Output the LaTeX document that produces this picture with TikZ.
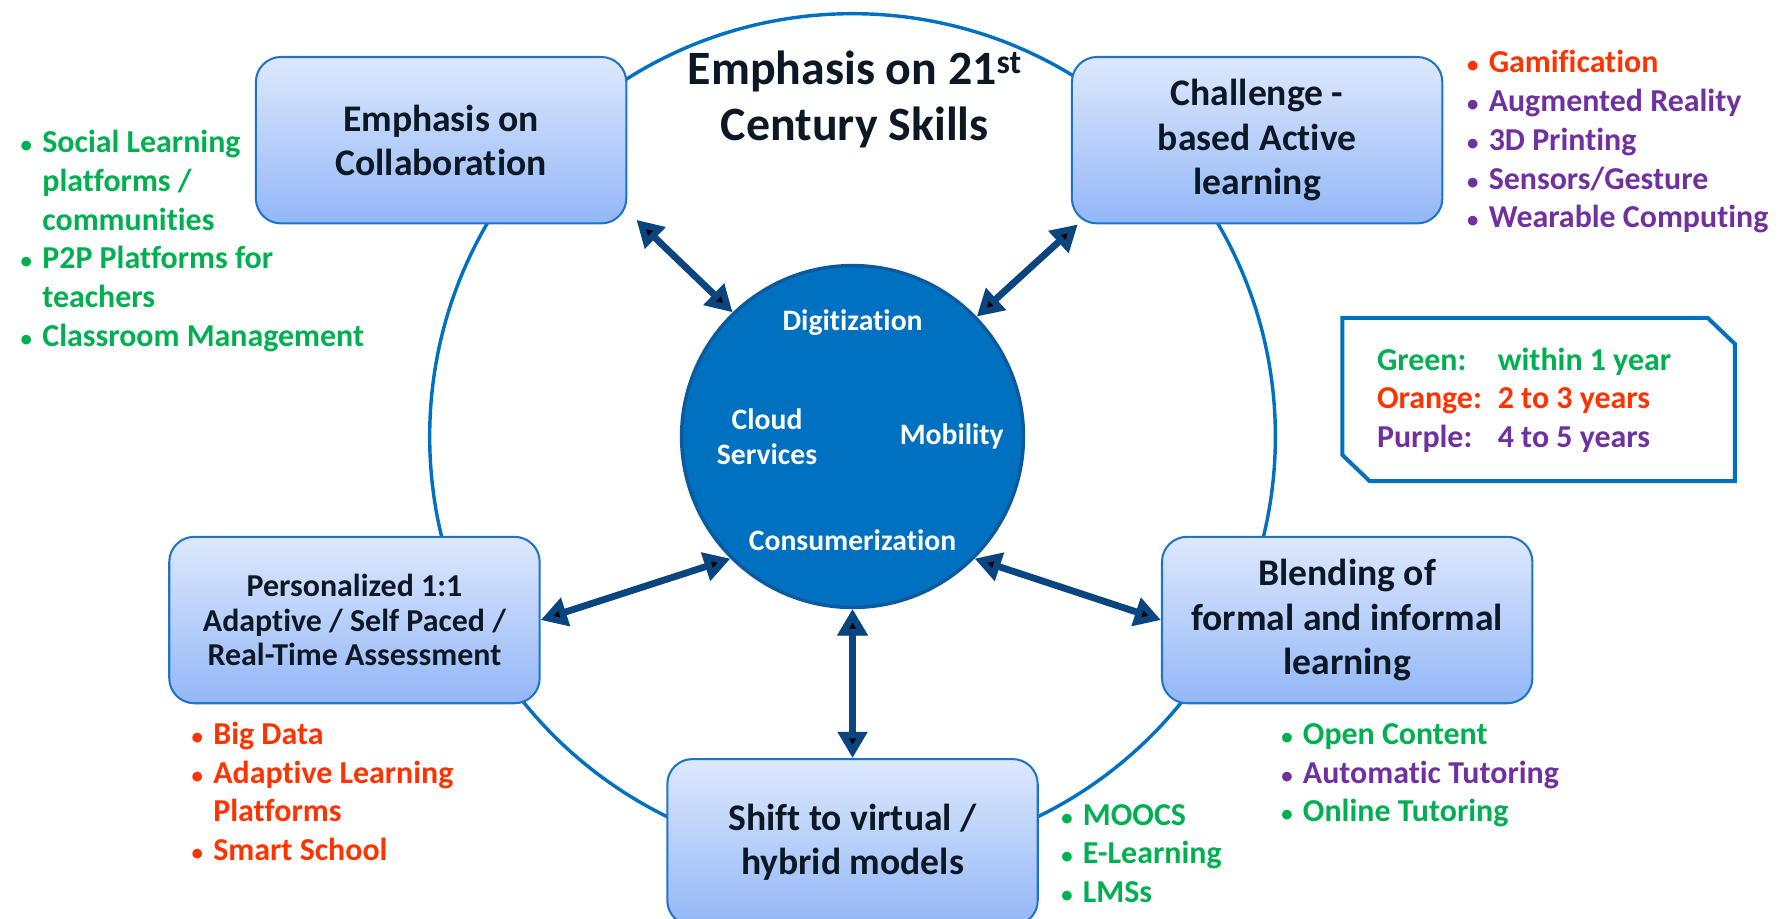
\documentclass[tikz,border=0pt]{standalone}
\usepackage{fontspec}
\setmainfont{Carlito}[Ligatures=NoCommon]
\usepackage{tikz}
\usetikzlibrary{positioning, arrows.meta}

\definecolor{ringblue}{HTML}{0070C0}
\definecolor{coreedge}{HTML}{0B5A9E}
\definecolor{linkblue}{HTML}{0A4580}
\definecolor{boxtop}{HTML}{DDE8FD}
\definecolor{boxbottom}{HTML}{93B7F7}
\definecolor{boxedge}{HTML}{1F74C8}
\definecolor{cgreen}{HTML}{00B050}
\definecolor{corange}{HTML}{FF3300}
\definecolor{cpurple}{HTML}{7030A0}
\definecolor{inkdark}{HTML}{0C1824}

\newcommand{\bdot}{{\fontsize{20}{0}\selectfont\textbullet}}
\newcommand{\bitem}[2]{\textcolor{#1}{\makebox[19pt][l]{\bdot}#2}} % bulleted line
\newcommand{\bcont}[2]{\textcolor{#1}{\hspace*{19pt}#2}} % continued line

\tikzset{
	skillbox/.style={rectangle, rounded corners=22pt, draw=boxedge, line width=1.8pt, top color=boxtop, bottom color=boxbottom, minimum width=325pt, minimum height=146pt, align=center, text=inkdark, font=\bfseries\fontsize{33}{39}\selectfont}, % the five outer boxes
	corelabel/.style={text=white, align=center, font=\bfseries\fontsize{26}{31}\selectfont}, % words inside the hub
	listtext/.style={inner sep=0pt, anchor=base west, font=\bfseries\fontsize{28}{34}\selectfont}, % bullet lists
	link/.style={<->, >={Triangle[length=23pt, width=25pt]}, line width=6pt, draw=linkblue}, % thick double arrows
	ring/.style={draw=ringblue, line width=3pt}, % big circle behind the boxes
}

\begin{document}
\begin{tikzpicture}[x=1pt, y=-1pt, on grid]
		\useasboundingbox (0,0) rectangle (1560,806);
		
		% Hub
		\node[circle, fill=ringblue, draw=coreedge, line width=3pt, minimum size=300pt] (core) at (748,383) {};
		\node[corelabel, above=100pt of core] (digi) {Digitization};
		\node[corelabel, left=75pt of core] (cloud) {Cloud\\Services};
		\node[corelabel, right=87pt of core] (mobi) {Mobility};
		\node[corelabel, below=91pt of core] (cons) {Consumerization};
		
		% Ring
		\draw[ring] (core.center) circle[radius=371pt];
		
		% Boxes
		\node[skillbox, above left=260pt and 361pt of core] (coll) {Emphasis on\\Collaboration};
		\node[skillbox, above right=260pt and 355pt of core] (chal) {Challenge -\\based Active\\learning};
		\node[skillbox, below left=161pt and 437pt of core, font=\bfseries\fontsize{28}{30.5}\selectfont] (pers) {Personalized 1:1\\Adaptive / Self Paced /\\Real-Time Assessment};
		\node[skillbox, below right=161pt and 434pt of core] (blend) {Blending of\\formal and informal\\learning};
		\node[skillbox, below=356pt of core] (shift) {Shift to virtual /\\hybrid models};
		
		% Title
		\node[align=center, text=inkdark, font=\bfseries\fontsize{42}{49}\selectfont] (title) at (750,87) {Emphasis on 21\textsuperscript{st}\\Century Skills};
		
		% Arrows
		\path[link]
		([xshift=8pt, yshift=4pt]coll.south east) edge (core.134)
		([xshift=6pt]chal.south west) edge (core.44)
		(pers.east) edge (core.225)
		(core.315) edge (blend.west)
		(core.270) edge (shift.north);
		
		% Lists
		\node[listtext] (colllist) at (18,134) {\begin{tabular}[t]{@{}l@{}}
				\bitem{cgreen}{Social Learning}\\
				\bcont{cgreen}{platforms /}\\
				\bcont{cgreen}{communities}\\
				\bitem{cgreen}{P2P Platforms for}\\
				\bcont{cgreen}{teachers}\\
				\bitem{cgreen}{Classroom Management}
			\end{tabular}};
		\node[listtext] (challist) at (1287,64) {\begin{tabular}[t]{@{}l@{}}
				\bitem{corange}{Gamification}\\
				\bitem{cpurple}{Augmented Reality}\\
				\bitem{cpurple}{3D Printing}\\
				\bitem{cpurple}{Sensors/Gesture}\\
				\bitem{cpurple}{Wearable Computing}
			\end{tabular}};
		\node[listtext] (perslist) at (168,653) {\begin{tabular}[t]{@{}l@{}}
				\bitem{corange}{Big Data}\\
				\bitem{corange}{Adaptive Learning}\\
				\bcont{corange}{Platforms}\\
				\bitem{corange}{Smart School}
			\end{tabular}};
		\node[listtext] (shiftlist) at (931,724) {\begin{tabular}[t]{@{}l@{}}
				\bitem{cgreen}{MOOCS}\\
				\bitem{cgreen}{E-Learning}\\
				\bitem{cgreen}{LMSs}
			\end{tabular}};
		\node[listtext] (blendlist) at (1124,653) {\begin{tabular}[t]{@{}l@{}}
				\bitem{cgreen}{Open Content}\\
				\bitem{cpurple}{Automatic Tutoring}\\
				\bitem{cgreen}{Online Tutoring}
			\end{tabular}};
		
		% Legend
		\node[inner sep=0pt, minimum width=344pt, minimum height=143pt] (legend) at (1350,350.5) {};
		\draw[draw=ringblue, line width=3.5pt] (legend.north west) -- ([xshift=-24pt]legend.north east) -- ([yshift=-23pt]legend.north east) -- (legend.south east) -- ([xshift=24pt]legend.south west) -- ([yshift=23pt]legend.south west) -- cycle;
		\node[listtext, anchor=west] (legtext) at (1208,352) {\begin{tabular}{@{}l@{}}
				\textcolor{cgreen}{\makebox[106pt][l]{Green:}within 1 year}\\
				\textcolor{corange}{\makebox[106pt][l]{Orange:}2 to 3 years}\\
				\textcolor{cpurple}{\makebox[106pt][l]{Purple:}4 to 5 years}
			\end{tabular}};
	\end{tikzpicture}
\end{document}
